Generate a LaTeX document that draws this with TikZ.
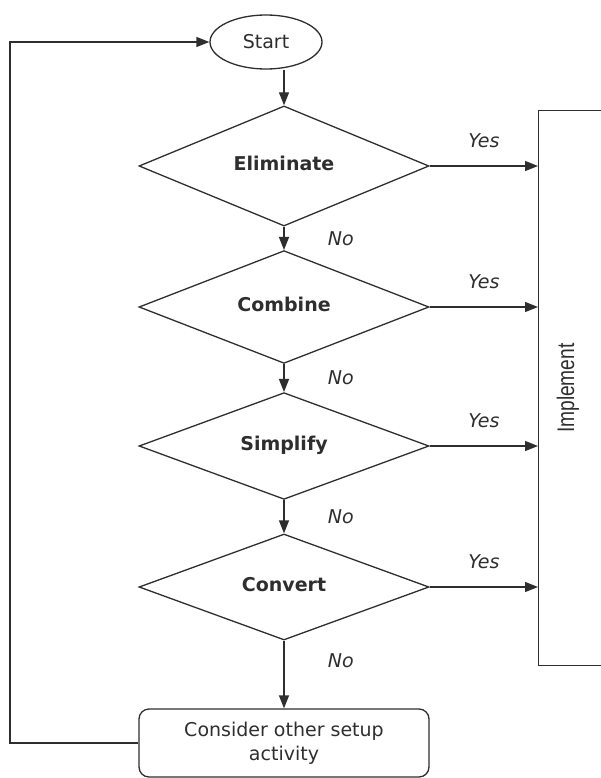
\documentclass[tikz,border=0pt]{standalone}
\usepackage{fontspec}
\setmainfont{DejaVu Sans}
\newfontfamily\implfont{Liberation Sans}
\usetikzlibrary{shapes.geometric,arrows.meta}
\definecolor{inkgrey}{HTML}{2E2E2E}

\begin{document}
\begin{tikzpicture}[x=1pt,y=-1pt,
        every node/.style={text=inkgrey,font=\fontsize{19}{24}\selectfont},
        flow/.style={draw=inkgrey,line width=1.3pt,-{Triangle[length=13pt,width=10pt]}},
        decision/.style={shape=diamond,draw=inkgrey,line width=1.3pt,inner sep=0pt,
            minimum width=290pt,minimum height=106pt,font=\fontsize{19}{24}\selectfont\bfseries},
        answer/.style={font=\fontsize{19}{24}\selectfont\itshape}]
        \useasboundingbox (0,0) rectangle (601,778);

        \node[shape=ellipse,draw=inkgrey,line width=1.3pt,minimum width=112pt,minimum height=54pt,inner sep=0pt] (START) at (266,42) {Start};
        \node[decision] (ELIM) at (284,166) {\raisebox{5pt}{Eliminate}};
        \node[decision] (COMB) at (284,307) {\raisebox{5pt}{Combine}};
        \node[decision] (SIMP) at (284,446) {\raisebox{5pt}{Simplify}};
        \node[decision] (CONV) at (284,587) {\raisebox{5pt}{Convert}};
        \node[shape=rectangle,rounded corners=10pt,draw=inkgrey,line width=1.3pt,align=center,
            minimum width=290pt,minimum height=68pt] (CONS) at (284,743) {Consider other setup\\activity};
        \node[shape=rectangle,draw=inkgrey,line width=1.3pt,anchor=north west,
            minimum width=82pt,minimum height=555pt] (IMPL) at (538,110) {};
        \node[rotate=90,font=\implfont\fontsize{24}{28}\selectfont,xscale=0.8] (IMPLTXT) at ([xshift=30pt]IMPL.west) {Implement};
        \coordinate (LOOP) at (10,0);

        % main line, top to bottom
        \path (ELIM.north |- START.south) edge [flow] (ELIM.north);
        \path (ELIM.south) edge [flow] node[answer, pos=0.5, right=40pt] {No} (COMB.north);
        \path (COMB.south) edge [flow] node[answer, pos=0.5, right=40pt] {No} (SIMP.north);
        \path (SIMP.south) edge [flow] node[answer, pos=0.5, right=40pt] {No} (CONV.north);
        \path (CONV.south) edge [flow] node[answer, pos=0.3, right=40pt] {No} (CONV.south |- CONS.north);

        % yes branches
        \path (ELIM.east) edge [flow] node[answer, above=14pt] {Yes} (ELIM.east -| IMPL.west);
        \path (COMB.east) edge [flow] node[answer, above=14pt] {Yes} (COMB.east -| IMPL.west);
        \path (SIMP.east) edge [flow] node[answer, above=14pt] {Yes} (SIMP.east -| IMPL.west);
        \path (CONV.east) edge [flow] node[answer, above=14pt] {Yes} (CONV.east -| IMPL.west);

        % back to start
        \draw [flow] (CONS.west) -- (CONS.west -| LOOP) |- (START.west);
    \end{tikzpicture}
\end{document}
